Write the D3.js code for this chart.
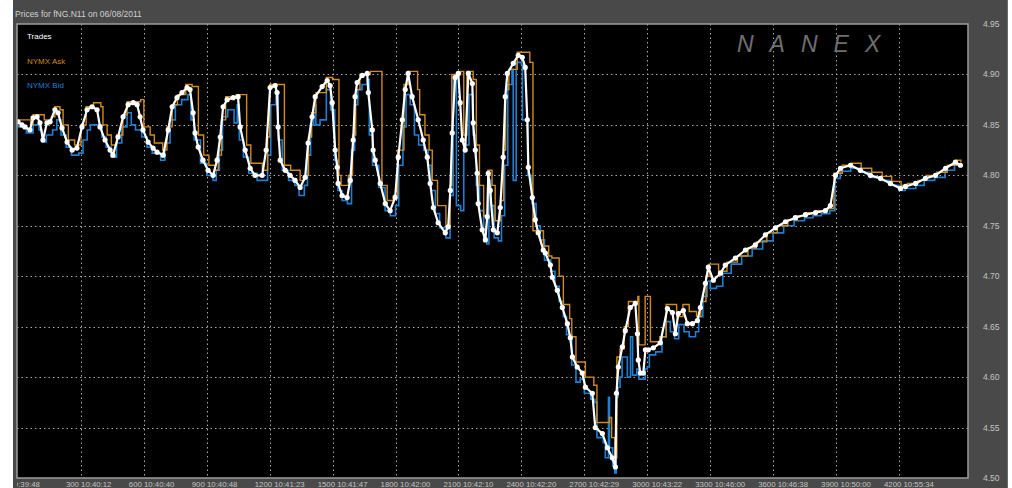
<!DOCTYPE html>
<html>
<head>
<meta charset="utf-8">
<script src="https://cdn.jsdelivr.net/npm/d3@7"></script>
<style>
  html, body { margin: 0; padding: 0; background: #ffffff; }
  svg { display: block; }
  text { font-family: "Liberation Sans", Arial, sans-serif; }
</style>
</head>
<body>
<svg id="chart" width="1012" height="488"></svg>
<script>
// fNG.N11 natural gas tick prices, 06/08/2011 — trades with NYMX best ask / bid
const titleText = "Prices for  fNG.N11  on  06/08/2011";

// price axis ticks
const priceTicks = [4.50, 4.55, 4.60, 4.65, 4.70, 4.75, 4.80, 4.85, 4.90, 4.95];

// tick-count axis: tick number and time of day
const tickIndex = [0, 300, 600, 900, 1200, 1500, 1800, 2100, 2400, 2700, 3000, 3300, 3600, 3900, 4200];
const tickTimes = ["10:39:48", "10:40:12", "10:40:40", "10:40:48", "10:41:23", "10:41:47", "10:42:00",
                   "10:42:10", "10:42:20", "10:42:29", "10:43:22", "10:46:00", "10:46:38", "10:50:00", "10:55:34"];

const legendNames = ["Trades", "NYMX Ask", "NYMX Bid"];

// trades: [tick number, price]
const trades = [
  [0,4.853],[19,4.850],[33,4.848],[57,4.845],[72,4.857],[91,4.858],[105,4.852],[119,4.835],[138,4.852],[153,4.853],
  [176,4.865],[191,4.862],[210,4.847],[234,4.833],[258,4.825],[281,4.827],[305,4.848],[329,4.865],[353,4.868],[377,4.865],
  [391,4.848],[415,4.835],[439,4.825],[453,4.820],[477,4.838],[501,4.858],[525,4.870],[549,4.872],[568,4.870],[582,4.858],
  [596,4.845],[620,4.833],[644,4.827],[663,4.823],[692,4.820],[716,4.845],[735,4.868],[758,4.877],[782,4.882],[806,4.887],
  [820,4.885],[835,4.862],[844,4.842],[859,4.828],[882,4.815],[906,4.805],[930,4.800],[949,4.815],[964,4.838],[978,4.868],
  [997,4.875],[1026,4.877],[1049,4.878],[1059,4.848],[1083,4.825],[1107,4.807],[1130,4.800],[1164,4.800],[1183,4.825],[1202,4.887],
  [1226,4.889],[1235,4.882],[1240,4.848],[1250,4.815],[1274,4.805],[1297,4.800],[1321,4.795],[1345,4.788],[1369,4.798],[1383,4.832],
  [1402,4.858],[1417,4.878],[1450,4.888],[1474,4.894],[1488,4.889],[1498,4.872],[1512,4.825],[1522,4.808],[1526,4.792],[1545,4.780],
  [1569,4.778],[1584,4.795],[1598,4.835],[1607,4.878],[1617,4.892],[1641,4.899],[1665,4.901],[1670,4.882],[1689,4.845],[1693,4.825],
  [1703,4.815],[1727,4.792],[1751,4.772],[1774,4.765],[1798,4.778],[1813,4.818],[1832,4.855],[1846,4.885],[1860,4.901],[1879,4.878],
  [1908,4.855],[1932,4.835],[1951,4.818],[1965,4.792],[1980,4.768],[2003,4.753],[2037,4.743],[2051,4.749],[2061,4.785],[2070,4.842],
  [2084,4.897],[2099,4.901],[2108,4.872],[2118,4.835],[2132,4.825],[2147,4.901],[2166,4.891],[2170,4.852],[2180,4.825],[2189,4.802],
  [2194,4.772],[2213,4.746],[2228,4.736],[2237,4.759],[2242,4.802],[2251,4.785],[2266,4.746],[2285,4.743],[2299,4.768],[2313,4.818],
  [2323,4.878],[2333,4.901],[2361,4.911],[2385,4.919],[2404,4.917],[2418,4.907],[2428,4.855],[2433,4.808],[2452,4.778],[2466,4.756],
  [2480,4.743],[2504,4.726],[2514,4.723],[2538,4.711],[2547,4.699],[2571,4.686],[2595,4.669],[2619,4.653],[2633,4.639],[2643,4.620],
  [2666,4.610],[2690,4.604],[2705,4.590],[2738,4.584],[2752,4.550],[2786,4.544],[2810,4.530],[2833,4.520],[2848,4.511],[2853,4.584],
  [2862,4.610],[2881,4.630],[2895,4.646],[2919,4.669],[2943,4.673],[2953,4.643],[2957,4.617],[2967,4.604],[2981,4.604],[2991,4.627],
  [3005,4.627],[3029,4.629],[3062,4.634],[3096,4.668],[3120,4.664],[3134,4.643],[3148,4.663],[3172,4.666],[3191,4.653],[3215,4.653],
  [3239,4.656],[3253,4.669],[3277,4.693],[3291,4.709],[3315,4.696],[3349,4.703],[3372,4.711],[3420,4.718],[3468,4.726],[3515,4.731],
  [3563,4.741],[3611,4.748],[3659,4.754],[3706,4.758],[3754,4.761],[3802,4.763],[3849,4.765],[3873,4.770],[3897,4.800],[3921,4.807],
  [3969,4.810],[4016,4.805],[4064,4.800],[4112,4.797],[4159,4.792],[4207,4.787],[4231,4.789],[4279,4.792],[4326,4.797],[4374,4.800],
  [4422,4.807],[4469,4.813],[4493,4.810]
];

// best ask: [tick number, price], held until the next change
const ask = [
  [0,4.855],[60,4.850],[72,4.860],[110,4.860],[125,4.855],[160,4.858],[176,4.868],[200,4.865],[215,4.850],[240,4.835],
  [270,4.830],[300,4.850],[325,4.868],[360,4.872],[395,4.868],[405,4.850],[425,4.840],[445,4.830],[470,4.840],[500,4.860],
  [520,4.873],[585,4.875],[600,4.848],[630,4.840],[650,4.832],[690,4.825],[710,4.848],[735,4.870],[760,4.880],[800,4.890],
  [830,4.888],[860,4.840],[885,4.820],[910,4.810],[940,4.805],[955,4.820],[970,4.855],[990,4.878],[1040,4.880],[1080,4.880],
  [1090,4.830],[1110,4.812],[1165,4.805],[1190,4.838],[1200,4.890],[1255,4.890],[1270,4.810],[1300,4.805],[1345,4.795],[1365,4.800],
  [1385,4.838],[1400,4.862],[1420,4.882],[1470,4.897],[1500,4.895],[1530,4.800],[1540,4.790],[1560,4.790],[1575,4.800],[1595,4.840],
  [1610,4.885],[1630,4.900],[1680,4.903],[1720,4.903],[1735,4.790],[1760,4.775],[1790,4.780],[1810,4.825],[1840,4.890],[1860,4.903],
  [1905,4.885],[1915,4.860],[1940,4.840],[1960,4.825],[1975,4.795],[2000,4.770],[2040,4.750],[2060,4.790],[2068,4.900],[2110,4.903],
  [2125,4.840],[2140,4.903],[2170,4.895],[2185,4.830],[2200,4.790],[2220,4.760],[2240,4.805],[2260,4.790],[2275,4.755],[2300,4.775],
  [2315,4.825],[2325,4.885],[2340,4.905],[2380,4.922],[2440,4.912],[2455,4.745],[2480,4.745],[2505,4.730],[2530,4.720],[2545,4.718],
  [2560,4.718],[2580,4.700],[2600,4.672],[2630,4.658],[2640,4.640],[2660,4.615],[2690,4.615],[2705,4.600],[2745,4.592],[2760,4.555],
  [2790,4.555],[2820,4.560],[2830,4.540],[2845,4.520],[2855,4.620],[2870,4.628],[2890,4.650],[2910,4.675],[2955,4.680],[2960,4.632],
  [2985,4.632],[2990,4.680],[3010,4.680],[3015,4.635],[3060,4.640],[3090,4.672],[3130,4.672],[3140,4.660],[3170,4.672],[3200,4.665],
  [3235,4.660],[3255,4.675],[3280,4.700],[3295,4.712],[3340,4.705],[3380,4.714],[3430,4.720],[3480,4.728],[3520,4.734],[3570,4.743],
  [3620,4.750],[3670,4.756],[3715,4.760],[3760,4.763],[3810,4.765],[3860,4.767],[3890,4.802],[3930,4.810],[3975,4.812],[4020,4.807],
  [4070,4.803],[4120,4.799],[4165,4.794],[4210,4.790],[4240,4.792],[4290,4.795],[4330,4.800],[4380,4.803],[4430,4.810],[4475,4.815],
  [4495,4.813]
];

// best bid: [tick number, price], held until the next change
const bid = [
  [0,4.848],[40,4.842],[72,4.850],[100,4.845],[115,4.833],[135,4.840],[165,4.845],[185,4.855],[205,4.840],[230,4.828],
  [255,4.820],[290,4.822],[310,4.835],[330,4.845],[345,4.850],[380,4.850],[400,4.838],[420,4.828],[445,4.818],[470,4.832],
  [495,4.848],[520,4.862],[540,4.850],[560,4.845],[575,4.845],[590,4.838],[615,4.828],[640,4.822],[680,4.815],[700,4.832],
  [725,4.855],[750,4.870],[780,4.875],[810,4.880],[825,4.855],[840,4.835],[870,4.812],[900,4.800],[930,4.795],[945,4.805],
  [960,4.825],[975,4.858],[1000,4.865],[1030,4.852],[1045,4.870],[1055,4.835],[1075,4.818],[1100,4.802],[1140,4.795],[1170,4.795],
  [1190,4.820],[1205,4.870],[1230,4.880],[1240,4.835],[1260,4.805],[1290,4.795],[1320,4.790],[1340,4.780],[1365,4.790],[1380,4.820],
  [1395,4.850],[1410,4.870],[1420,4.850],[1440,4.855],[1470,4.885],[1490,4.865],[1510,4.815],[1525,4.785],[1545,4.775],[1570,4.772],
  [1590,4.825],[1605,4.870],[1620,4.885],[1640,4.890],[1665,4.895],[1675,4.840],[1690,4.810],[1720,4.788],[1750,4.765],[1775,4.760],
  [1800,4.770],[1815,4.810],[1835,4.848],[1850,4.880],[1870,4.870],[1890,4.840],[1910,4.830],[1935,4.825],[1955,4.810],[1970,4.785],
  [1990,4.762],[2010,4.748],[2040,4.738],[2060,4.780],[2075,4.895],[2090,4.770],[2110,4.765],[2125,4.830],[2150,4.880],[2170,4.840],
  [2185,4.790],[2200,4.765],[2220,4.738],[2235,4.732],[2245,4.795],[2255,4.770],[2270,4.738],[2290,4.735],[2305,4.760],[2320,4.810],
  [2335,4.890],[2355,4.905],[2361,4.795],[2375,4.912],[2400,4.910],[2405,4.855],[2425,4.855],[2430,4.800],[2450,4.772],[2470,4.750],
  [2490,4.736],[2510,4.716],[2540,4.705],[2560,4.690],[2580,4.675],[2600,4.660],[2615,4.642],[2640,4.612],[2660,4.595],[2680,4.598],
  [2700,4.584],[2730,4.578],[2750,4.575],[2760,4.540],[2790,4.535],[2800,4.520],[2815,4.580],[2820,4.530],[2835,4.512],[2845,4.505],
  [2852,4.580],[2860,4.590],[2870,4.600],[2880,4.620],[2895,4.620],[2905,4.600],[2920,4.640],[2930,4.602],[2950,4.608],[2960,4.598],
  [2980,4.598],[2990,4.608],[3000,4.610],[3010,4.622],[3040,4.625],[3070,4.640],[3090,4.655],[3110,4.645],[3130,4.638],[3150,4.652],
  [3175,4.645],[3200,4.640],[3230,4.645],[3245,4.660],[3265,4.680],[3285,4.695],[3300,4.688],[3330,4.690],[3360,4.703],[3400,4.712],
  [3450,4.720],[3500,4.727],[3550,4.735],[3600,4.743],[3650,4.750],[3700,4.755],[3750,4.758],[3790,4.760],[3830,4.762],[3870,4.765],
  [3895,4.797],[3920,4.804],[3970,4.807],[4015,4.803],[4060,4.798],[4110,4.795],[4155,4.790],[4200,4.785],[4230,4.787],[4280,4.790],
  [4320,4.795],[4370,4.798],[4420,4.805],[4465,4.810],[4495,4.809]
];

// ---------------------------------------------------------------- layout
const svg = d3.select("#chart");
const plot = { left: 17, right: 968, top: 24, bottom: 478 };
const colors = { panel: "#494949", frame: "#9c9c9c", grid: "#a8a8a8", text: "#c4c4c4",
                 trades: "#ffffff", ask: "#d08a1e", bid: "#1f7fd2" };

const x = d3.scaleLinear().domain([0, 4529]).range([18, plot.right]);
const y = d3.scaleLinear().domain([4.50, 4.95]).range([plot.bottom, plot.top]);

// window panel
svg.append("rect").attr("x", 13).attr("y", 0).attr("width", 995).attr("height", 488)
  .attr("fill", colors.panel);
svg.append("line").attr("x1", 1007.5).attr("x2", 1007.5).attr("y1", 0).attr("y2", 488)
  .attr("stroke", "#6a6a6a");

// title
svg.append("text").attr("x", 15).attr("y", 17).attr("font-size", 8.5)
  .attr("fill", "#d0d0d0").text(titleText);

// plot area
svg.append("rect").attr("x", plot.left).attr("y", plot.top)
  .attr("width", plot.right - plot.left).attr("height", plot.bottom - plot.top)
  .attr("fill", "#000000");

svg.append("defs").append("clipPath").attr("id", "plotClip").append("rect")
  .attr("x", plot.left).attr("y", plot.top)
  .attr("width", plot.right - plot.left).attr("height", plot.bottom - plot.top);
svg.select("defs").append("clipPath").attr("id", "xLabelClip").append("rect")
  .attr("x", plot.left).attr("y", plot.bottom).attr("width", plot.right - plot.left).attr("height", 12);

// grid
const grid = svg.append("g").attr("stroke", colors.grid).attr("stroke-width", 1)
  .attr("stroke-dasharray", "1.5,3");
grid.selectAll("line.h").data(priceTicks.filter(v => v > 4.5 && v < 4.95)).join("line")
  .attr("x1", plot.left).attr("x2", plot.right)
  .attr("y1", d => Math.round(y(d)) + 0.5).attr("y2", d => Math.round(y(d)) + 0.5);
grid.selectAll("line.v").data(tickIndex.filter(v => v > 0)).join("line")
  .attr("y1", plot.top).attr("y2", plot.bottom)
  .attr("x1", d => Math.round(x(d)) + 0.5).attr("x2", d => Math.round(x(d)) + 0.5);

// watermark
svg.append("text").attr("x", 737).attr("y", 52)
  .attr("font-family", "Lato, 'DejaVu Sans', sans-serif").attr("font-weight", 300)
  .attr("font-style", "italic").attr("font-size", 23).attr("letter-spacing", 16)
  .attr("fill", "#6f6f6f").text("NANEX");

// series
const g = svg.append("g").attr("clip-path", "url(#plotClip)");
const stepLine = d3.line().x(d => x(d[0])).y(d => y(d[1])).curve(d3.curveStepAfter);
const tradeLine = d3.line().x(d => x(d[0])).y(d => y(d[1]));

g.append("path").datum(bid).attr("d", stepLine).attr("fill", "none")
  .attr("stroke", colors.bid).attr("stroke-width", 1.6);
g.append("path").datum(ask).attr("d", stepLine).attr("fill", "none")
  .attr("stroke", colors.ask).attr("stroke-width", 1.4);
g.append("path").datum(trades).attr("d", tradeLine).attr("fill", "none")
  .attr("stroke", colors.trades).attr("stroke-width", 2.2).attr("stroke-linejoin", "round");
g.selectAll("circle").data(trades).join("circle")
  .attr("cx", d => x(d[0])).attr("cy", d => y(d[1])).attr("r", 2.6)
  .attr("fill", colors.trades);

// frame
svg.append("rect").attr("x", plot.left).attr("y", plot.top)
  .attr("width", plot.right - plot.left).attr("height", plot.bottom - plot.top)
  .attr("fill", "none").attr("stroke", colors.frame).attr("stroke-width", 1.5);

// legend
const legendColors = [colors.trades, colors.ask, colors.bid];
svg.append("g").selectAll("text").data(legendNames).join("text")
  .attr("x", 27).attr("y", (d, i) => 39 + i * 24.5)
  .attr("font-size", 8).attr("fill", (d, i) => legendColors[i]).text(d => d);

// right price axis
svg.append("g").selectAll("text").data(priceTicks).join("text")
  .attr("x", 983).attr("y", d => y(d)).attr("dy", "0.35em")
  .attr("font-size", 8.5).attr("fill", colors.text).text(d => d.toFixed(2));

// bottom tick axis
svg.append("g").attr("clip-path", "url(#xLabelClip)")
  .selectAll("text").data(tickIndex).join("text")
  .attr("x", d => x(d) - 15).attr("y", plot.bottom + 8.5)
  .attr("font-size", 7.8).attr("fill", colors.text)
  .text((d, i) => d + " " + tickTimes[i]);
</script>
</body>
</html>
